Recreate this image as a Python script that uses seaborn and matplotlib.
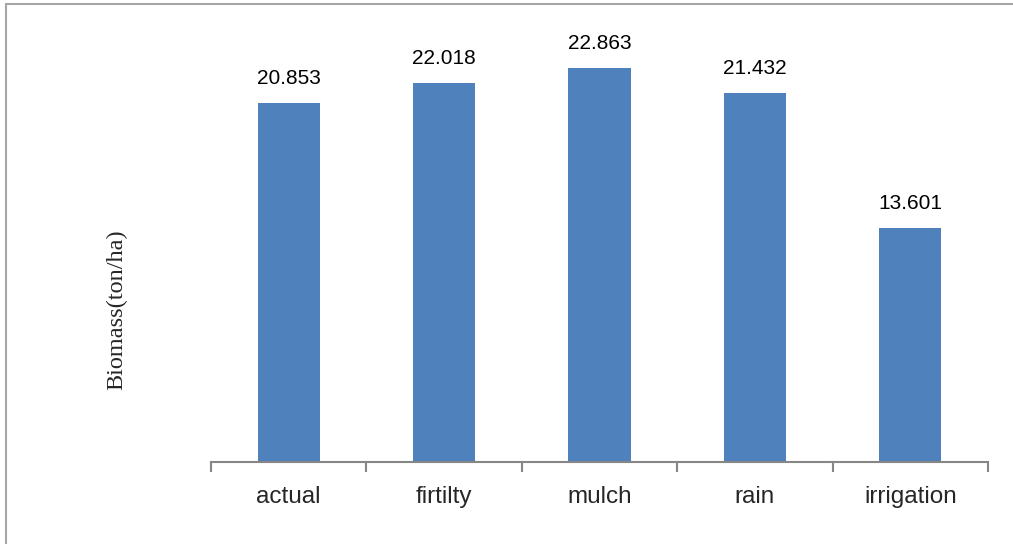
import matplotlib
matplotlib.use("Agg")
import matplotlib.pyplot as plt
import seaborn as sns
import pandas as pd
from matplotlib.patches import Rectangle

# --- data ---
scenarios = ["actual", "firtilty", "mulch", "rain", "irrigation"]
biomass = [20.853, 22.018, 22.863, 21.432, 13.601]

df = pd.DataFrame({"scenario": scenarios, "biomass": biomass})

sns.set_style("white")
plt.rcParams["font.family"] = ["Liberation Sans", "DejaVu Sans"]

fig = plt.figure(figsize=(10.13, 5.44), dpi=100)
ax = fig.add_axes([0.2083, 0.1507, 0.767, 0.792])

sns.barplot(data=df, x="scenario", y="biomass", color="#4F81BD",
            saturation=1, width=0.4, linewidth=0, ax=ax)

for i, v in enumerate(biomass):
    ax.text(i, v + 0.85, f"{v:.3f}", ha="center", va="bottom", fontsize=15, color="black")

ax.set_ylim(0, 25)
ax.set_xlim(-0.5, 4.5)
ax.set_yticks([])
ax.set_xlabel("")
ax.set_ylabel("Biomass(ton/ha)", family=["Liberation Serif", "DejaVu Serif"], fontsize=17.5)
ax.yaxis.set_label_coords(-0.108, 0.353)

for side in ["top", "right", "left"]:
    ax.spines[side].set_visible(False)
ax.spines["bottom"].set_color("#868686")
ax.spines["bottom"].set_linewidth(1.5)

# category separators as ticks
ax.set_xticks([-0.5, 0.5, 1.5, 2.5, 3.5, 4.5], minor=True)
ax.tick_params(axis="x", which="minor", bottom=True, length=7, width=1.5, color="#868686")
ax.tick_params(axis="x", which="major", bottom=False, labelsize=17.5, pad=14)

# outer chart frame
fig.patches.append(Rectangle((5.5 / 1013, -0.1), 1.2, 1.0 - 4.5 / 544 + 0.1,
                             transform=fig.transFigure, fill=False,
                             edgecolor="#A6A6A6", linewidth=1.5))

fig.savefig("out.png", dpi=100)
